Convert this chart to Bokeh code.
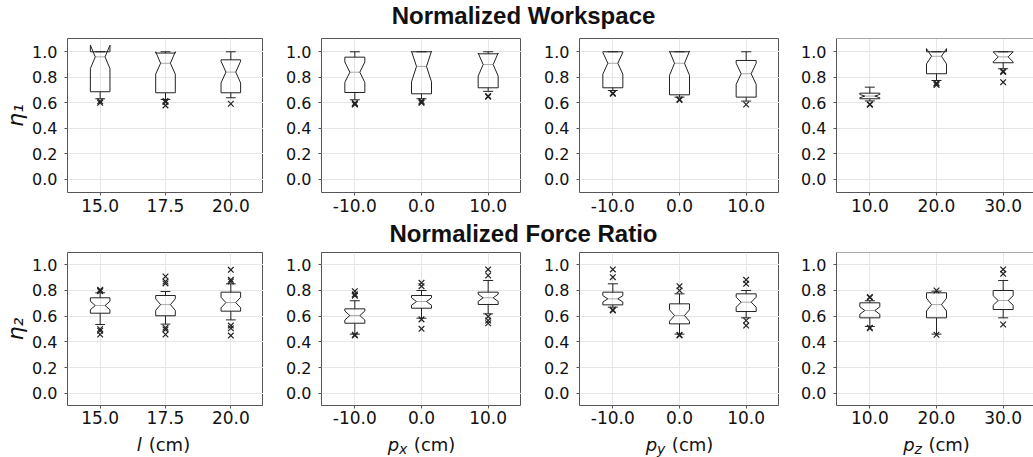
from bokeh.plotting import figure
from bokeh.layouts import column, row
from bokeh.models import Range1d, FixedTicker, Label, Span
from bokeh.embed import file_html
from bokeh.resources import INLINE

# ---------------- data ----------------
positions = [1, 2, 3]
cat_l = ["15.0", "17.5", "20.0"]
cat_pxy = ["-10.0", "0.0", "10.0"]
cat_pz = ["10.0", "20.0", "30.0"]
y_ticks = [0.0, 0.2, 0.4, 0.6, 0.8, 1.0]

title_ws = "Normalized Workspace"
title_fr = "Normalized Force Ratio"

# Normalized Workspace (eta_1): panels l, px, py, pz ; three boxes each
ws_q1 = [[0.687, 0.679, 0.679], [0.681, 0.671, 0.718], [0.718, 0.663, 0.645], [0.632, 0.828, 0.914]]
ws_med = [[0.960, 0.910, 0.841], [0.840, 0.885, 0.900], [0.910, 0.910, 0.828], [0.653, 0.965, 0.960]]
ws_q3 = [[1.000, 0.990, 0.937], [0.958, 1.000, 0.984], [1.000, 1.000, 0.932], [0.676, 1.000, 1.000]]
ws_ci_lo = [[0.868, 0.825, 0.756], [0.760, 0.765, 0.810], [0.825, 0.815, 0.745], [0.640, 0.905, 0.920]]
ws_ci_hi = [[1.052, 1.000, 0.926], [0.920, 1.005, 0.990], [0.995, 1.005, 0.910], [0.666, 1.025, 1.000]]
ws_w_lo = [[0.632, 0.627, 0.640], [0.624, 0.632, 0.690], [0.697, 0.645, 0.614], [0.615, 0.775, 0.867]]
ws_w_hi = [[1.000, 1.000, 1.000], [1.000, 1.000, 1.000], [1.000, 1.000, 1.000], [0.723, 1.000, 1.000]]
ws_fliers = [
    [[0.600, 0.612], [0.606, 0.580, 0.615], [0.593]],
    [[0.598, 0.587, 0.592], [0.614, 0.600, 0.605], [0.653, 0.648]],
    [[0.671, 0.676], [0.627, 0.622], [0.587]],
    [[0.590, 0.585], [0.750, 0.740, 0.755], [0.841, 0.848, 0.762]],
]

# Normalized Force Ratio (eta_2)
fr_q1 = [[0.623, 0.603, 0.639], [0.545, 0.662, 0.691], [0.688, 0.540, 0.636], [0.587, 0.587, 0.652]]
fr_med = [[0.683, 0.690, 0.706], [0.605, 0.714, 0.743], [0.735, 0.605, 0.709], [0.644, 0.690, 0.722]]
fr_q3 = [[0.743, 0.761, 0.787], [0.657, 0.761, 0.787], [0.787, 0.696, 0.774], [0.704, 0.782, 0.800]]
fr_ci_lo = [[0.650, 0.645, 0.665], [0.570, 0.685, 0.715], [0.710, 0.560, 0.670], [0.615, 0.640, 0.685]]
fr_ci_hi = [[0.716, 0.735, 0.747], [0.640, 0.743, 0.771], [0.760, 0.650, 0.748], [0.673, 0.740, 0.759]]
fr_w_lo = [[0.535, 0.538, 0.571], [0.460, 0.584, 0.618], [0.670, 0.460, 0.587], [0.520, 0.460, 0.587]]
fr_w_hi = [[0.782, 0.792, 0.852], [0.720, 0.800, 0.878], [0.852, 0.774, 0.800], [0.720, 0.795, 0.878]]
fr_fliers = [
    [[0.800, 0.805, 0.795, 0.500, 0.487, 0.457], [0.909, 0.870, 0.855, 0.510, 0.497, 0.457],
     [0.961, 0.883, 0.870, 0.527, 0.505, 0.449]],
    [[0.795, 0.770, 0.760, 0.455, 0.450], [0.860, 0.834, 0.575, 0.501], [0.964, 0.917, 0.597, 0.566, 0.545]],
    [[0.964, 0.904, 0.649, 0.645], [0.834, 0.800, 0.455, 0.450], [0.883, 0.852, 0.566, 0.527]],
    [[0.750, 0.745, 0.510, 0.505], [0.800, 0.455], [0.964, 0.930, 0.535]],
]

x_label_main = ["l", "p", "p", "p"]
x_label_sub = ["", "x", "y", "z"]
x_label_unit = "(cm)"
x_cats = [cat_l, cat_pxy, cat_pxy, cat_pz]

# ---------------- styling / layout ----------------
BW = 0.3
EDGE = "#222222"
FRAME = "#555555"
GRID = "#e6e6e6"
MED = "#aaaaaa"
TXT = "#111111"
PX_PER_UNIT = 200 / 3.0
lefts = [63, 58, 58, 57]
frame_ws = [200, 200, 200, 197]


def x_end_of(k):
    return 0.5 + frame_ws[k] / PX_PER_UNIT


def make_panel(k, q1, med, q3, clo, chi, wlo, whi, fl, yr, fh, bt, bb, ylabel, standoff):
    fw = frame_ws[k]
    bl = lefts[k]
    p = figure(width=bl + fw, height=bt + fh + bb,
               x_range=Range1d(0.5, x_end_of(k)), y_range=Range1d(yr[0], yr[1]),
               output_backend="svg", toolbar_location=None,
               min_border_left=bl, min_border_right=0, min_border_top=bt, min_border_bottom=bb)
    p.background_fill_color = "white"
    p.border_fill_color = "white"
    last = (k == 3)
    if last:
        p.outline_line_color = None
        p.add_layout(Span(location=yr[1], dimension="width", line_color=FRAME, line_width=1))
    else:
        p.outline_line_color = FRAME
        p.outline_line_width = 1

    p.xaxis.ticker = FixedTicker(ticks=positions)
    p.xaxis.major_label_overrides = {pos: lab for pos, lab in zip(positions, x_cats[k])}
    p.yaxis.ticker = FixedTicker(ticks=y_ticks)
    p.yaxis.major_label_overrides = {t: "%.1f" % t for t in y_ticks}
    for ax in (p.xaxis, p.yaxis):
        ax.minor_tick_line_color = None
        ax.major_tick_in = 0
        ax.major_tick_out = 3
        ax.major_tick_line_color = FRAME
        ax.axis_line_color = FRAME if last else None
        ax.major_label_text_font = "DejaVu Sans"
        ax.major_label_text_color = TXT
    p.xaxis.major_label_text_font_size = "17px"
    p.yaxis.major_label_text_font_size = "16px"
    p.xaxis.major_label_standoff = standoff
    p.yaxis.major_label_standoff = 7
    if ylabel:
        p.yaxis.axis_label = ylabel
        p.yaxis.axis_label_text_font = "DejaVu Sans"
        p.yaxis.axis_label_text_font_style = "italic"
        p.yaxis.axis_label_text_font_size = "22px"
        p.yaxis.axis_label_standoff = 1
        p.yaxis.axis_label_text_color = TXT
    p.xgrid.grid_line_color = GRID
    p.ygrid.grid_line_color = GRID

    box_xs, box_ys, wx, wy, mx, my = [], [], [], [], [], []
    fx, fy = [], []
    for i, pos in enumerate(positions):
        l, r = pos - BW / 2, pos + BW / 2
        nl, nr = pos - BW / 4, pos + BW / 4
        box_xs.append([l, r, r, nr, r, r, l, l, nl, l, l])
        box_ys.append([q1[i], q1[i], clo[i], med[i], chi[i], q3[i], q3[i], chi[i], med[i], clo[i], q1[i]])
        wx += [[pos, pos], [pos, pos], [pos - BW / 4, pos + BW / 4], [pos - BW / 4, pos + BW / 4]]
        wy += [[q1[i], wlo[i]], [q3[i], whi[i]], [wlo[i], wlo[i]], [whi[i], whi[i]]]
        mx.append([nl, nr])
        my.append([med[i], med[i]])
        for v in fl[i]:
            fx.append(pos)
            fy.append(v)
    p.multi_line(xs=mx, ys=my, line_color=MED, line_width=1)
    p.multi_line(xs=wx, ys=wy, line_color=EDGE, line_width=1)
    p.multi_line(xs=box_xs, ys=box_ys, line_color=EDGE, line_width=1)
    p.scatter(x=fx, y=fy, marker="x", size=8, line_color=EDGE, line_width=1.2)
    return p


def label_fig(k, h):
    """thin figure below a bottom panel, carrying its x-axis title (italic symbol + subscript + unit)"""
    fw = frame_ws[k]
    bl = lefts[k]
    xe = x_end_of(k)
    f = figure(width=bl + fw, height=h, x_range=Range1d(0.5, xe), y_range=Range1d(0, h),
               output_backend="svg", toolbar_location=None,
               min_border_left=bl, min_border_right=0, min_border_top=0, min_border_bottom=0)
    f.axis.visible = False
    f.grid.visible = False
    f.outline_line_color = None
    main = x_label_main[k]
    sub = x_label_sub[k]
    fs_main, fs_sub = 18, 14
    w_main = (0.635 if main == "p" else 0.30) * fs_main
    w_sub = {"": 0.0, "x": 0.592, "y": 0.592, "z": 0.525}[sub] * fs_sub
    w_space = 0.36 * fs_main
    w_cm = 2.304 * fs_main
    total = w_main + w_sub + w_space + w_cm
    cx = (0.5 + xe) / 2.0 if k < 3 else 2.0
    start = -total / 2.0
    base = 13
    f.add_layout(Label(x=cx, y=base, x_offset=start, text=main,
                       text_font="DejaVu Sans", text_font_style="italic",
                       text_font_size="%dpx" % fs_main, text_color=TXT,
                       text_align="left", text_baseline="alphabetic"))
    if sub:
        f.add_layout(Label(x=cx, y=base - 4, x_offset=start + w_main, text=sub,
                           text_font="DejaVu Sans", text_font_style="italic",
                           text_font_size="%dpx" % fs_sub, text_color=TXT,
                           text_align="left", text_baseline="alphabetic"))
    f.add_layout(Label(x=cx, y=base, x_offset=start + w_main + w_sub + w_space, text=x_label_unit,
                       text_font="DejaVu Sans",
                       text_font_size="%dpx" % fs_main, text_color=TXT,
                       text_align="left", text_baseline="alphabetic"))
    return f


def title_fig(text, h, ymid):
    t = figure(width=1033, height=h, x_range=Range1d(0, 1033), y_range=Range1d(0, h),
               output_backend="svg", toolbar_location=None,
               min_border_left=0, min_border_right=0, min_border_top=0, min_border_bottom=0)
    t.axis.visible = False
    t.grid.visible = False
    t.outline_line_color = None
    t.add_layout(Label(x=523, y=ymid, text=text, text_font="Liberation Sans", text_font_style="bold",
                       text_font_size="24px", text_color=TXT,
                       text_align="center", text_baseline="middle"))
    return t


top_panels = []
for k in range(4):
    top_panels.append(make_panel(k, ws_q1[k], ws_med[k], ws_q3[k], ws_ci_lo[k], ws_ci_hi[k],
                                 ws_w_lo[k], ws_w_hi[k], ws_fliers[k], (-0.102, 1.104), 154, 6, 26,
                                 "η₁" if k == 0 else None, 3))
bot_panels = []
for k in range(4):
    bot_panels.append(make_panel(k, fr_q1[k], fr_med[k], fr_q3[k], fr_ci_lo[k], fr_ci_hi[k],
                                 fr_w_lo[k], fr_w_hi[k], fr_fliers[k], (-0.096, 1.096), 153, 6, 25,
                                 "η₂" if k == 0 else None, 2))
label_row = [label_fig(k, 27) for k in range(4)]

layout = column(title_fig(title_ws, 32, 17), row(*top_panels),
                title_fig(title_fr, 28, 13), row(*bot_panels), row(*label_row))

open("out.html", "w").write(file_html(layout, INLINE))
